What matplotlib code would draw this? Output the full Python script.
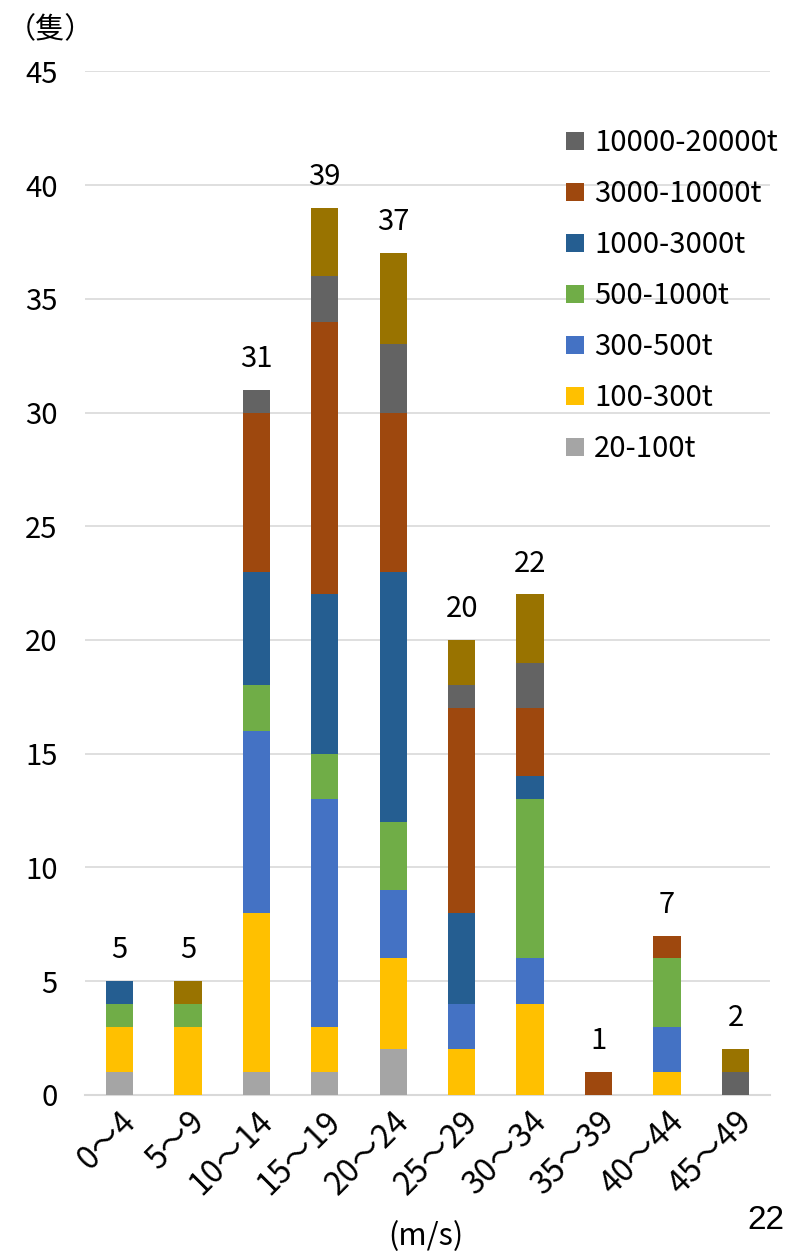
import matplotlib
matplotlib.use('Agg')
import matplotlib.pyplot as plt
import numpy as np

plt.rcParams['font.family'] = ['Noto Sans CJK JP', 'DejaVu Sans']

# wind speed classes (m/s)
categories = ['0～4', '5～9', '10～14', '15～19', '20～24',
              '25～29', '30～34', '35～39', '40～44', '45～49']

# ship counts by tonnage class, stacked bottom -> top
s_20_100 = [1, 0, 1, 1, 2, 0, 0, 0, 0, 0]
s_100_300 = [2, 3, 7, 2, 4, 2, 4, 0, 1, 0]
s_300_500 = [0, 0, 8, 10, 3, 2, 2, 0, 2, 0]
s_500_1000 = [1, 1, 2, 2, 3, 0, 7, 0, 3, 0]
s_1000_3000 = [1, 0, 5, 7, 11, 4, 1, 0, 0, 0]
s_3000_10000 = [0, 0, 7, 12, 7, 9, 3, 1, 1, 0]
s_10000_20000 = [0, 0, 1, 2, 3, 1, 2, 0, 0, 1]
s_over_20000 = [0, 1, 0, 3, 4, 2, 3, 0, 0, 1]

series = [
    ('20-100t', s_20_100, '#a5a5a5'),
    ('100-300t', s_100_300, '#ffc000'),
    ('300-500t', s_300_500, '#4472c4'),
    ('500-1000t', s_500_1000, '#70ad47'),
    ('1000-3000t', s_1000_3000, '#255e91'),
    ('3000-10000t', s_3000_10000, '#9e480e'),
    ('10000-20000t', s_10000_20000, '#636363'),
    ('_over20000', s_over_20000, '#997300'),
]

fig = plt.figure(figsize=(7.96, 12.54), dpi=100)
ax = fig.add_axes([0.107, 0.127, 0.86, 0.816])

x = np.arange(len(categories))
bottom = np.zeros(len(categories))
handles = []
for name, vals, col in series:
    b = ax.bar(x, vals, 0.4, bottom=bottom, color=col, label=name, zorder=3)
    if not name.startswith('_'):
        handles.append(b)
    bottom += np.array(vals)

# totals above bars
for xi, tot in zip(x, bottom):
    ax.text(xi, tot + 0.7, '%d' % tot, ha='center', va='bottom', fontsize=21)

ax.set_xlim(-0.5, 9.5)
ax.set_ylim(0, 45)
ax.set_yticks(range(0, 46, 5))
ax.yaxis.grid(True, color='#d9d9d9', linewidth=1.2, zorder=0)
for s in ['top', 'right', 'left']:
    ax.spines[s].set_visible(False)
ax.spines['bottom'].set_color('#d9d9d9')
ax.spines['bottom'].set_linewidth(1.5)
ax.tick_params(axis='y', length=0, labelsize=21, pad=20)
ax.tick_params(axis='x', length=0, labelsize=23, pad=8)
ax.set_xticks(x)
ax.set_xticklabels(categories, rotation=45, ha='right', rotation_mode='anchor')

leg = ax.legend(handles[::-1], [h.get_label() for h in handles[::-1]],
                loc='upper right', bbox_to_anchor=(1.05, 0.97), frameon=False,
                fontsize=21, handlelength=0.6, handleheight=0.6,
                handletextpad=0.35, labelspacing=0.72)

fig.text(0.008, 0.976, '（隻）', fontsize=21, ha='left', va='center')
fig.text(0.535, 0.014, '(m/s)', fontsize=22, ha='center', va='center')
fig.text(0.985, 0.027, '22', fontsize=24, ha='right', va='center',
         family='Liberation Sans')

fig.savefig('out.png', dpi=100)
